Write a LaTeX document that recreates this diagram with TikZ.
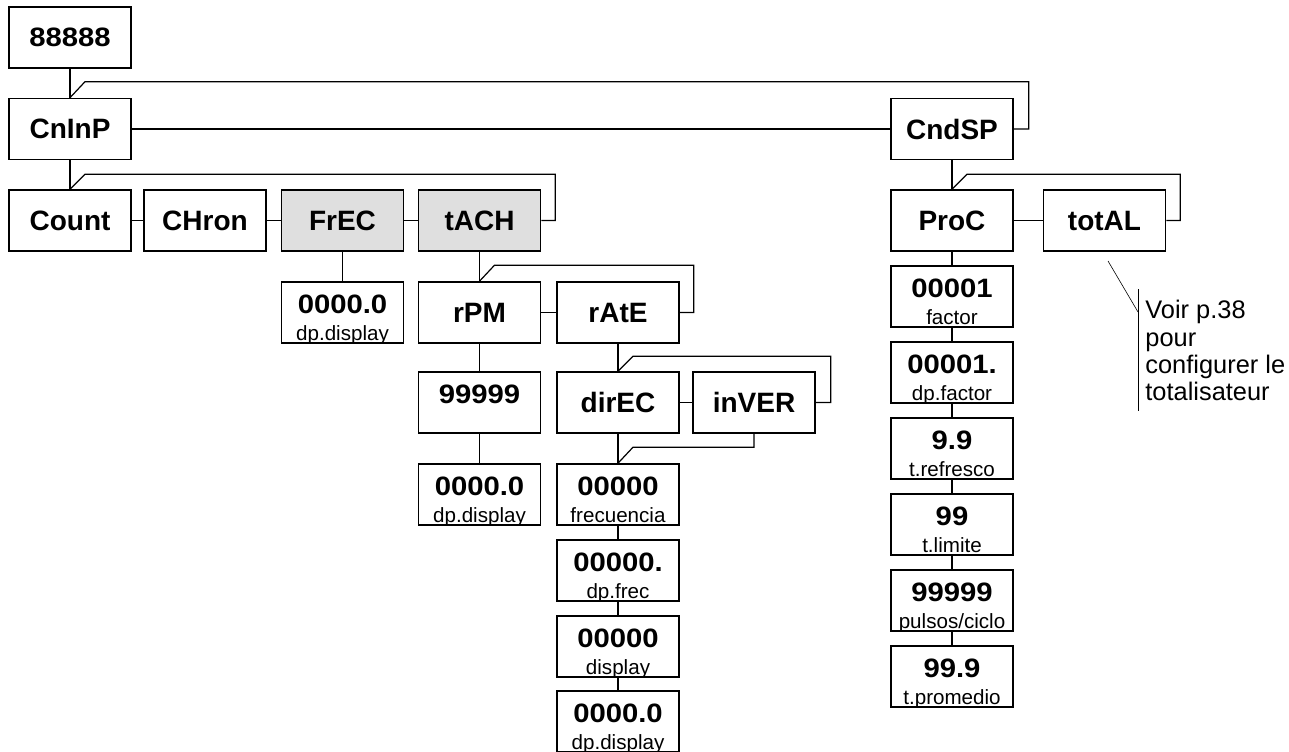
\documentclass[tikz,border=0pt]{standalone}
\usepackage{fontspec}
\setmainfont{Liberation Sans}
\newfontfamily\digitfont[FakeStretch=1.1]{Liberation Sans}
\tikzset{
  menubox/.style={draw, line width=0.8pt, minimum width=61pt, minimum height=30.5pt, inner sep=0pt,
    font=\fontsize{14}{16}\selectfont\bfseries},
  selbox/.style={menubox, fill=gray!25},
  valbox/.style={menubox, font=\digitfont\fontsize{13.3}{15}\selectfont\bfseries, text depth=8pt},
  sublabel/.style={draw=none, fill=none, anchor=base, inner sep=0pt, minimum width=0pt, minimum height=0pt,
    text depth={}, font=\normalfont\fontsize{10.3}{12}\selectfont},
  wire/.style={line width=0.6pt},
}
\newcommand\valnode[4]{\node[valbox, path picture={\node[sublabel] at ([yshift=1.5pt]path picture bounding box.south) {#4};}] (#1) at (#2) {#3};}
\begin{document}
\begin{tikzpicture}[x=0.5pt, y=-0.5pt]
  \useasboundingbox (0,0) rectangle (1289,751);
  \node[menubox, font=\digitfont\fontsize{13.3}{15}\selectfont\bfseries] (disp) at (70,37.5) {88888};
  \node[menubox] (cninp) at (70,129) {CnInP};
  \node[menubox] (cndsp) at (952,129) {CndSP};
  \node[menubox] (count) at (70,220.5) {Count};
  \node[menubox] (chron) at (205,220.5) {CHron};
  \node[selbox] (frec) at (342.5,220.5) {FrEC};
  \node[selbox] (tach) at (479.5,220.5) {tACH};
  \node[menubox] (proc) at (952,220.5) {ProC};
  \node[menubox] (total) at (1104.5,220.5) {totAL};
  \valnode{frecdp}{342.5,312.5}{0000.0}{dp.display}
  \node[menubox] (rpm) at (479.5,312.5) {rPM};
  \node[menubox] (rate) at (618,312.5) {rAtE};
  \valnode{rpmmax}{479.5,402.5}{99999}{}
  \node[menubox] (direc) at (618,402.5) {dirEC};
  \node[menubox] (inver) at (754,402.5) {inVER};
  \valnode{rpmdp}{479.5,494.5}{0000.0}{dp.display}
  \valnode{rfrec}{618,494.5}{00000}{frecuencia}
  \valnode{rfrecdp}{618,570.5}{00000.}{dp.frec}
  \valnode{rdisp}{618,646.5}{00000}{display}
  \valnode{rdispdp}{618,721.5}{0000.0}{dp.display}
  \valnode{factor}{952,296.5}{00001}{factor}
  \valnode{factordp}{952,372.5}{00001.}{dp.factor}
  \valnode{refresh}{952,448.5}{9.9}{t.refresco}
  \valnode{limit}{952,524.5}{99}{t.limite}
  \valnode{pulses}{952,600.5}{99999}{pulsos/ciclo}
  \valnode{average}{952,676.5}{99.9}{t.promedio}

  \foreach \a/\b in {disp/cninp, cninp/cndsp, cninp/count, count/chron, chron/frec, frec/tach,
    frec/frecdp, tach/rpm, rpm/rate, rpm/rpmmax, rpmmax/rpmdp, rate/direc, direc/inver,
    direc/rfrec, rfrec/rfrecdp, rfrecdp/rdisp, rdisp/rdispdp, cndsp/proc, proc/total,
    proc/factor, factor/factordp, factordp/refresh, refresh/limit, limit/pulses, pulses/average}
    \draw[wire] (\a) -- (\b);
  \draw[wire] (cninp.north) -- ++(15,-16) -| ([xshift=7.5pt]cndsp.east) -- (cndsp.east);
  \draw[wire] (count.north) -- ++(15,-15) -| ([xshift=7pt]tach.east) -- (tach.east);
  \draw[wire] (rpm.north) -- ++(15,-16) -| ([xshift=7pt]rate.east) -- (rate.east);
  \draw[wire] (direc.north) -- ++(15,-15) -| ([xshift=7.5pt]inver.east) -- (inver.east);
  \draw[wire] (rfrec.north) -- ++(15,-16) -| (inver.south);
  \draw[wire] (proc.north) -- ++(15,-15) -| ([xshift=7pt]total.east) -- (total.east);

  \coordinate (notetip) at (1108,261);
  \coordinate (notebend) at (1138,312);
  \coordinate (notetop) at (1138,289);
  \coordinate (notebot) at (1138,411);
  \draw[line width=0.3pt] (notetip) -- (notebend);
  \draw[line width=0.4pt] (notetop) -- (notebot);
  \node[anchor=north west, inner sep=0pt, align=left, font=\fontsize{12.7}{13.6}\selectfont] (note) at (1145,300)
    {Voir p.38\\pour\\configurer le\\totalisateur};
\end{tikzpicture}
\end{document}
